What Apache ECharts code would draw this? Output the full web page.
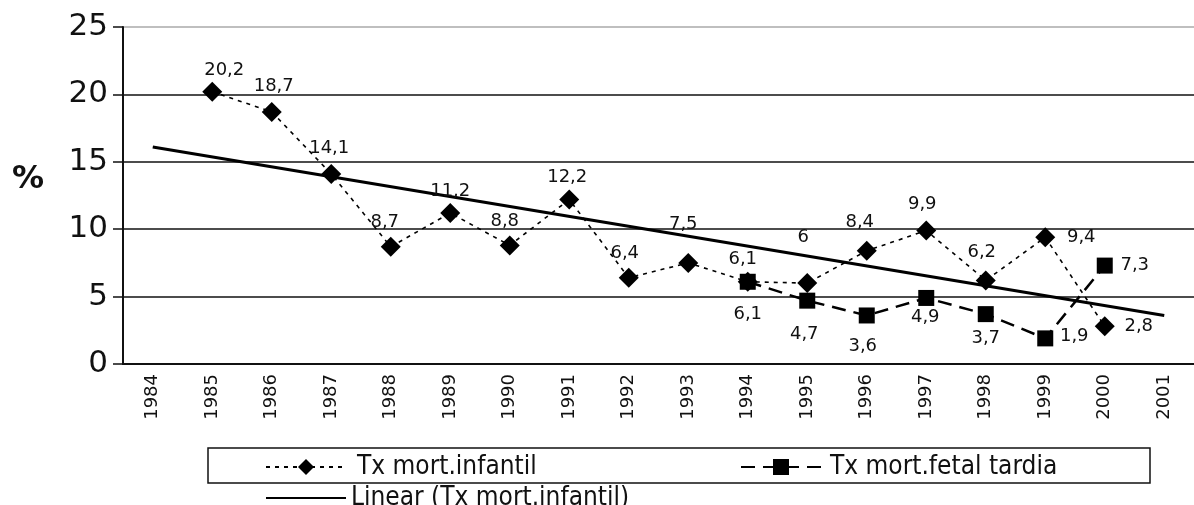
<!DOCTYPE html>
<html>
<head>
<meta charset="utf-8">
<script src="https://cdn.jsdelivr.net/npm/echarts@6/dist/echarts.min.js"></script>
<style>
    html, body { margin: 0; padding: 0; background: #fff; }
    #chart { width: 1194px; height: 505px; }
</style>
</head>
<body>
<div id="chart"></div>
<script>
// anos do eixo x
const years = ['1984', '1985', '1986', '1987', '1988', '1989', '1990', '1991', '1992',
    '1993', '1994', '1995', '1996', '1997', '1998', '1999', '2000', '2001']

// Tx mort.infantil (%)
const infantil = [null, 20.2, 18.7, 14.1, 8.7, 11.2, 8.8, 12.2, 6.4,
    7.5, 6.1, 6, 8.4, 9.9, 6.2, 9.4, 2.8, null]

// Tx mort.fetal tardia (%)
const fetalTardia = [null, null, null, null, null, null, null, null, null,
    null, 6.1, 4.7, 3.6, 4.9, 3.7, 1.9, 7.3, null]

// Linear (Tx mort.infantil), pontas
const tendencia = [16.1, null, null, null, null, null, null, null, null,
    null, null, null, null, null, null, null, null, 3.6]

const NAME_INF = 'Tx mort.infantil'
const NAME_FET = 'Tx mort.fetal tardia'
const NAME_LIN = 'Linear (Tx mort.infantil)'

const LABEL_FONT = "'DejaVu Sans', Verdana, sans-serif"
const LEGEND_FONT = "'Liberation Sans Narrow', 'DejaVu Sans Condensed', sans-serif"

// deslocamento dos rótulos em relação ao ponto
const nudgeInf = {
    '1985': [12, -21], '1986': [2, -26], '1987': [-2, -26], '1988': [-6, -24],
    '1989': [0, -22], '1990': [-5, -24], '1991': [-2, -22], '1992': [-4, -24],
    '1993': [-5, -39], '1994': [-5, -22], '1995': [-4, -46], '1996': [-7, -28],
    '1997': [-4, -26], '1998': [-4, -28], '1999': [36, 0], '2000': [34, 0]
}
const nudgeFet = {
    '1994': [0, 33], '1995': [-3, 34], '1996': [-4, 31], '1997': [-1, 19],
    '1998': [0, 24], '1999': [29, -2], '2000': [30, 0]
}

function toComma(v) {
    return String(v).replace('.', ',')
}

function withLabels(values, nudge) {
    return values.map((v, i) => {
        if (v === null) {
            return null
        }
        return {
            value: v,
            label: { offset: nudge[years[i]] || [0, 0] }
        }
    })
}

const pointLabel = {
    show: true,
    position: 'inside',
    align: 'center',
    verticalAlign: 'middle',
    color: '#111',
    fontFamily: LABEL_FONT,
    fontSize: 18,
    formatter: p => toComma(p.value)
}

function legendFor(item, left, top, gap) {
    return {
        data: [item],
        left: left,
        top: top,
        padding: 0,
        itemWidth: 80,
        itemHeight: 20,
        itemGap: 0,
        selectedMode: false,
        textStyle: {
            color: '#111',
            fontFamily: LEGEND_FONT,
            fontSize: 26,
            lineHeight: 26,
            padding: [0, 0, 0, gap]
        }
    }
}

let myChart = echarts.init(document.getElementById('chart'))

myChart.setOption({
    backgroundColor: '#fff',
    animation: false,
    grid: {
        left: 123,
        top: 27,
        right: -9,
        bottom: 141
    },
    graphic: [
        {
            type: 'text',
            left: 12,
            top: 164,
            style: {
                text: '%',
                fill: '#111',
                font: "bold 32px 'DejaVu Sans', sans-serif"
            }
        },
        {
            type: 'rect',
            shape: { x: 208, y: 448, width: 942, height: 35 },
            style: { fill: 'none', stroke: '#111', lineWidth: 1.5 },
            z: 0
        }
    ],
    legend: [
        legendFor(NAME_INF, 265, 454, 6),
        legendFor(NAME_FET, 740, 454, 4),
        legendFor({ name: NAME_LIN, itemStyle: { opacity: 0 } }, 265, 485, 0)
    ],
    xAxis: {
        type: 'category',
        data: years,
        boundaryGap: true,
        axisLine: { lineStyle: { color: '#111', width: 2 } },
        axisTick: { length: 9, lineStyle: { color: '#111', width: 1.5 } },
        axisLabel: {
            rotate: 90,
            margin: 10,
            interval: 0,
            color: '#111',
            fontFamily: LABEL_FONT,
            fontSize: 18
        },
        splitLine: { show: false }
    },
    yAxis: {
        type: 'value',
        min: 0,
        max: 25,
        interval: 5,
        axisLine: { show: true, lineStyle: { color: '#111', width: 2 } },
        axisTick: { show: true, length: 10, lineStyle: { color: '#111', width: 1.5 } },
        axisLabel: {
            margin: 15,
            color: '#111',
            fontFamily: LABEL_FONT,
            fontSize: 31
        },
        splitLine: {
            lineStyle: {
                color: ['#111', '#111', '#111', '#111', '#111', '#aaa'],
                width: 1.5
            }
        }
    },
    series: [
        {
            name: NAME_LIN,
            type: 'line',
            data: tendencia,
            connectNulls: true,
            symbol: 'none',
            itemStyle: { color: '#000' },
            lineStyle: { color: '#000', width: 3, type: 'solid' },
            z: 3
        },
        {
            name: NAME_INF,
            type: 'line',
            data: withLabels(infantil, nudgeInf),
            symbol: 'diamond',
            symbolSize: 20,
            itemStyle: { color: '#000' },
            lineStyle: { color: '#000', width: 1.6, type: [4, 5] },
            label: pointLabel,
            z: 4
        },
        {
            name: NAME_FET,
            type: 'line',
            data: withLabels(fetalTardia, nudgeFet),
            symbol: 'rect',
            symbolSize: 16,
            itemStyle: { color: '#000' },
            lineStyle: { color: '#000', width: 2.5, type: [14, 8] },
            label: pointLabel,
            z: 5
        }
    ]
})
</script>
</body>
</html>
